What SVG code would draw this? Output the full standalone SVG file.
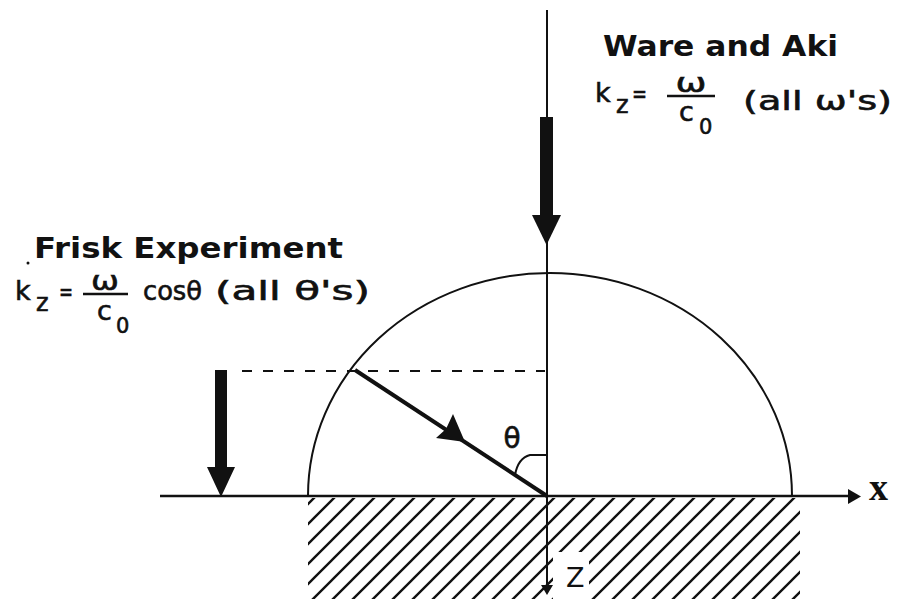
<svg xmlns="http://www.w3.org/2000/svg" width="899" height="599" viewBox="0 0 899 599">
<style>
.t{font-family:"DejaVu Sans","Liberation Sans",sans-serif;fill:#111}
.b{font-weight:bold}
.m{stroke:#111;stroke-width:0.6}
.ln{stroke:#111;fill:none}
.fill{fill:#111;stroke:none}
</style>
<defs>
<pattern id="hatch" patternUnits="userSpaceOnUse" x="12" y="0" width="20" height="20">
<path d="M0,20 L20,0 M-3,3 L3,-3 M17,23 L23,17" stroke="#111" stroke-width="2.4" fill="none"/>
</pattern>
</defs>
<rect width="899" height="599" fill="#fff"/>
<g id="ground">
<rect x="308" y="498" width="492" height="101" fill="url(#hatch)"/>
<rect x="553" y="552" width="36" height="47" fill="#fff"/>
</g>
<g id="hemisphere">
<path class="ln" d="M308,496 A242,223 0 0 1 792,496" stroke-width="2"/>
</g>
<g id="connectors">
<line class="ln" x1="160" y1="496" x2="852" y2="496" stroke-width="2.5"/>
<polygon class="fill" points="848,489 861,496.5 848,504"/>
<line class="ln" x1="547" y1="10" x2="547" y2="590" stroke-width="2"/>
<polygon class="fill" points="541,585 553,585 547,595"/>
<line class="ln" x1="242" y1="371" x2="545" y2="371" stroke-width="2" stroke-dasharray="10 11"/>
<line class="ln" x1="355" y1="370" x2="547" y2="496" stroke-width="4"/>
<polygon class="fill" points="465,442 436,438 446,429 453,414"/>
<path class="ln" d="M547,455 H530 C522,457 517,464 515,475" stroke-width="2"/>
</g>
<g id="ware-arrow">
<rect class="fill" x="540" y="117" width="13" height="99"/>
<polygon class="fill" points="532,215 561,215 546.5,245"/>
</g>
<g id="frisk-arrow">
<rect class="fill" x="215" y="370" width="12" height="98"/>
<polygon class="fill" points="207,467 235,467 221,497"/>
</g>
<g id="labels">
<text class="t m" x="512" y="448" font-size="28" text-anchor="middle">θ</text>
<text x="869" y="500" font-family="Liberation Serif,serif" font-weight="bold" font-size="38" fill="#111">x</text>
<text class="t" x="566" y="587" font-size="27">Z</text>
</g>
<g id="ware-label">
<text class="t b" x="603" y="56" font-size="28" textLength="235" lengthAdjust="spacingAndGlyphs">Ware and Aki</text>
<text class="t m" x="595" y="102" font-size="27">k</text>
<text class="t m" x="616" y="113" font-size="24">z</text>
<text class="t m" x="632" y="102" font-size="24" textLength="15" lengthAdjust="spacingAndGlyphs">=</text>
<text class="t m" x="691" y="92" font-size="27" text-anchor="middle" textLength="31" lengthAdjust="spacingAndGlyphs">ω</text>
<line class="ln" x1="667" y1="96" x2="715" y2="96" stroke-width="2.5"/>
<text class="t m" x="679" y="121" font-size="27">c</text>
<text class="t m" x="699" y="134" font-size="21">0</text>
<text class="t m" x="743" y="110" font-size="26" textLength="149" lengthAdjust="spacingAndGlyphs">(all ω's)</text>
</g>
<g id="frisk-label">
<circle class="fill" cx="28" cy="263" r="1.5"/>
<text class="t b" x="34" y="258" font-size="28" textLength="309" lengthAdjust="spacingAndGlyphs">Frisk Experiment</text>
<text class="t m" x="15" y="300" font-size="27">k</text>
<text class="t m" x="36" y="311" font-size="24">z</text>
<text class="t m" x="59" y="300" font-size="24" textLength="14" lengthAdjust="spacingAndGlyphs">=</text>
<text class="t m" x="105" y="290" font-size="27" text-anchor="middle" textLength="28" lengthAdjust="spacingAndGlyphs">ω</text>
<line class="ln" x1="83" y1="294" x2="128" y2="294" stroke-width="2.5"/>
<text class="t m" x="97" y="320" font-size="27">c</text>
<text class="t m" x="116" y="333" font-size="21">0</text>
<text class="t m" x="143" y="300" font-size="26" textLength="59" lengthAdjust="spacingAndGlyphs">cosθ</text>
<text class="t m" x="215" y="300" font-size="26" textLength="155" lengthAdjust="spacingAndGlyphs">(all θ's)</text>
</g>
</svg>
